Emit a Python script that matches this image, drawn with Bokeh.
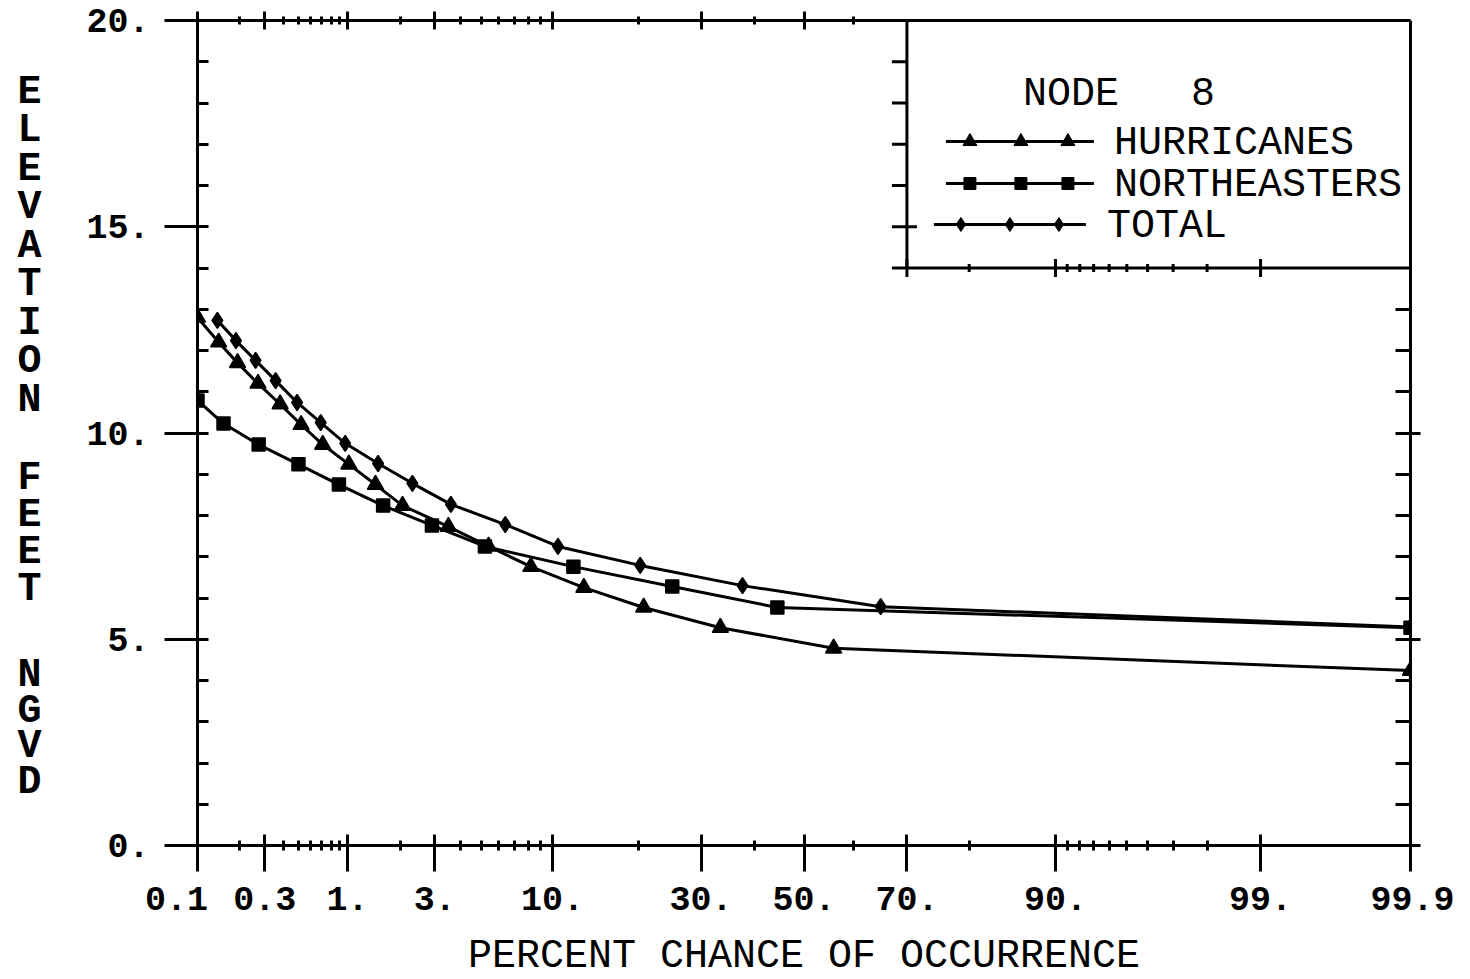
from math import pi
from statistics import NormalDist
from bokeh.plotting import figure
from bokeh.models import (Range1d, LinearAxis, FixedTicker, Label, BoxAnnotation,
                          CustomLabelingPolicy)
from bokeh.embed import file_html
from bokeh.resources import INLINE

# ---------------- data (percent chance of occurrence, elevation ft NGVD) -------------
hur_pct = [0.1, 0.143, 0.195, 0.27, 0.38, 0.52, 0.71, 1.02, 1.45, 2.04, 3.5, 5.4,
           8.2, 13.1, 20.7, 33.5, 56.0, 99.9]
hur_elev = [12.8, 12.2, 11.7, 11.2, 10.7, 10.2, 9.72, 9.24, 8.75, 8.24, 7.73, 7.25,
            6.76, 6.25, 5.77, 5.28, 4.78, 4.24]

ne_pct = [0.1, 0.155, 0.273, 0.5, 0.89, 1.6, 2.9, 5.2, 12.0, 25.1, 44.6, 99.9]
ne_elev = [10.79, 10.23, 9.72, 9.24, 8.75, 8.24, 7.76, 7.25, 6.76, 6.28, 5.77, 5.28]

tot_pct = [0.14, 0.19, 0.26, 0.355, 0.49, 0.69, 0.97, 1.5, 2.3, 3.6, 6.4, 10.5,
           20.2, 37.7, 65.2, 99.9]
tot_elev = [12.73, 12.24, 11.76, 11.27, 10.74, 10.25, 9.75, 9.26, 8.78, 8.27, 7.78,
            7.25, 6.79, 6.30, 5.79, 5.30]

# ---------------- ticks ----------------
NB = "\u00a0"
x_major_pct = [0.1, 0.3, 1, 3, 10, 30, 50, 70, 90, 99, 99.9]
x_major_labels = ["0.1" + NB + NB, "0.3", "1.", "3.", "10.", "30.", "50.", "70.",
                  "90.", "99.", NB + "99.9"]
x_minor_pct = [0.2, 0.4, 0.5, 0.6, 0.7, 0.8, 0.9, 2, 4, 5, 6, 7, 8, 9, 20, 40, 60, 80,
               91, 92, 93, 94, 95, 96, 97, 98]
y_major = [0, 5, 10, 15, 20]
y_major_labels = ["0.", "5.", "10.", "15.", "20."]
y_minor = [v for v in range(0, 21) if v % 5 != 0]

x_title = "PERCENT CHANCE OF OCCURRENCE"
y_title_words = ["ELEVATION", "FEET", "NGVD"]
legend_title = "NODE" + NB * 3 + "8"
series_names = ["HURRICANES", "NORTHEASTERS", "TOTAL"]

# legend box corner (in data terms: percent / elevation)
LEG_PCT = 70
LEG_Y = 14

# ---------------- probability scale ----------------
ND = NormalDist()


def z(pct):
    return ND.inv_cdf(pct / 100.0)


def zs(lst):
    return [z(v) for v in lst]


X_START, X_END = z(0.1), z(99.9)
Y_START, Y_END = 0, 20
FW, FH = 1213, 825
KX = FW / (X_END - X_START)   # px per data unit
KY = FH / (Y_END - Y_START)

FONT = "Liberation Mono"

p = figure(frame_width=FW, frame_height=FH,
           x_range=Range1d(X_START, X_END), y_range=Range1d(Y_START, Y_END),
           output_backend="svg", toolbar_location=None,
           x_axis_location=None, y_axis_location=None,
           min_border_left=197, min_border_right=44, min_border_top=20,
           min_border_bottom=134,
           background_fill_color="white", border_fill_color="white",
           outline_line_color=None)
p.grid.visible = False

NO_LABELS = "for (const i of indices) indices.unset(i)"


def make_axis(ticks, minor, labels, maj_in, maj_out, min_in, min_out, standoff=None):
    ax = LinearAxis(ticker=FixedTicker(ticks=ticks, minor_ticks=minor))
    ax.axis_line_width = 3
    ax.axis_line_color = "black"
    ax.major_tick_line_width = 3
    ax.minor_tick_line_width = 3
    ax.major_tick_line_color = "black"
    ax.minor_tick_line_color = "black"
    ax.major_tick_in = maj_in
    ax.major_tick_out = maj_out
    ax.minor_tick_in = min_in
    ax.minor_tick_out = min_out
    if labels is not None:
        ax.major_label_overrides = {t: l for t, l in zip(ticks, labels)}
        ax.major_label_text_font = FONT
        ax.major_label_text_font_style = "bold"
        ax.major_label_text_font_size = "35px"
        ax.major_label_text_color = "black"
        ax.major_label_standoff = standoff
    else:
        ax.major_label_policy = CustomLabelingPolicy(code=NO_LABELS)
        ax.major_label_text_font_size = "0px"
        ax.major_label_standoff = 0
    return ax


bottom = make_axis(zs(x_major_pct), zs(x_minor_pct), x_major_labels, 11, 26, 5, 5, 9)
bottom.axis_label = x_title
bottom.axis_label_text_font = FONT
bottom.axis_label_text_font_style = "normal"
bottom.axis_label_text_font_size = "40px"
bottom.axis_label_text_color = "black"
bottom.axis_label_standoff = 10

left = make_axis(y_major, y_minor, y_major_labels, 11, 33, 11, 0, 15)
top = make_axis(zs([v for v in x_major_pct if v < LEG_PCT]),
                zs([v for v in x_minor_pct if v < LEG_PCT]), None, 9, 9, 4, 4)
right = make_axis([v for v in y_major if v < LEG_Y], [v for v in y_minor if v < LEG_Y],
                  None, 15, 10, 15, 0)

# stacked (upright) y title: letters as labels of an outer, line-less left axis
# layout: (first letter centre below frame top in px, pitch px)
word_layout = [(71.5, 38.5), (458, 37.0), (655, 35.7)]
title_ticks, title_letters = [], []
for word, (start, pitch) in zip(y_title_words, word_layout):
    for i, ch in enumerate(word):
        title_ticks.append(Y_END - (start + i * pitch) / KY)
        title_letters.append(ch)
ytitle = LinearAxis(ticker=FixedTicker(ticks=title_ticks, minor_ticks=[]),
                    major_label_overrides=dict(zip(title_ticks, title_letters)),
                    axis_line_color=None, major_tick_line_color=None,
                    minor_tick_line_color=None, major_tick_in=0, major_tick_out=0,
                    minor_tick_in=0, minor_tick_out=0,
                    major_label_text_font=FONT, major_label_text_font_style="bold",
                    major_label_text_font_size="40px", major_label_text_color="black",
                    major_label_standoff=42)

p.add_layout(bottom, "below")
p.add_layout(left, "left")
p.add_layout(ytitle, "left")
p.add_layout(top, "above")
p.add_layout(right, "right")

# ---------------- curves ----------------
series = [
    (hur_pct, hur_elev, "triangle", 16),
    (ne_pct, ne_elev, "square", 13),
    (tot_pct, tot_elev, "diamond", 16),
]
for pct, elev, marker, size in series:
    xs = zs(pct)
    p.line(xs, elev, line_color="black", line_width=3)
    p.scatter(xs, elev, marker=marker, size=size, fill_color="black", line_color="black",
              line_width=1.5)

# ---------------- legend box ----------------
LX = z(LEG_PCT)
p.add_layout(BoxAnnotation(left=LX, bottom=LEG_Y, fill_color=None, fill_alpha=0,
                           line_color="black", line_alpha=1.0, line_width=3))

# ticks along the legend box edges
edge_y = [v for v in sorted(y_major + y_minor) if LEG_Y <= v < Y_END]
p.ray(x=[LX] * len(edge_y), y=edge_y, length=15, length_units="screen", angle=pi,
      line_color="black", line_width=3)
edge_y_major = [v for v in y_major if LEG_Y <= v < Y_END]
p.ray(x=[LX] * len(edge_y_major), y=edge_y_major, length=10, length_units="screen",
      angle=0, line_color="black", line_width=3)

edge_x_major = zs([v for v in x_major_pct if LEG_PCT <= v < 99.9])
edge_x_minor = zs([v for v in x_minor_pct if LEG_PCT <= v < 99.9])
for ang in (pi / 2, -pi / 2):
    p.ray(x=edge_x_major, y=[LEG_Y] * len(edge_x_major), length=9, length_units="screen",
          angle=ang, line_color="black", line_width=3)
    p.ray(x=edge_x_minor, y=[LEG_Y] * len(edge_x_minor), length=4, length_units="screen",
          angle=ang, line_color="black", line_width=3)

# legend entries: (line start, line end, marker offsets, row y, text x) in px
legend_rows = [
    (39, 187, [63, 114, 161], 121, 207, "triangle", 14),
    (39, 187, [63, 114, 161], 163, 207, "square", 12),
    (27, 179, [54, 103, 152], 204, 200, "diamond", 14),
]
for name, (l0, l1, mk, dy, tx, marker, size) in zip(series_names, legend_rows):
    yy = Y_END - dy / KY
    p.line([LX + l0 / KX, LX + l1 / KX], [yy, yy], line_color="black", line_width=3)
    p.scatter([LX + m / KX for m in mk], [yy] * len(mk), marker=marker, size=size,
              fill_color="black", line_color="black")
    p.add_layout(Label(x=LX, y=Y_END, x_offset=tx, y_offset=-(dy + 2), text=name,
                       text_font=FONT, text_font_size="40px", text_color="black",
                       text_align="left", text_baseline="middle"))

p.add_layout(Label(x=LX, y=Y_END, x_offset=116, y_offset=-74, text=legend_title,
                   text_font=FONT, text_font_size="40px", text_color="black",
                   text_align="left", text_baseline="middle"))

open("out.html", "w").write(file_html(p, INLINE))
